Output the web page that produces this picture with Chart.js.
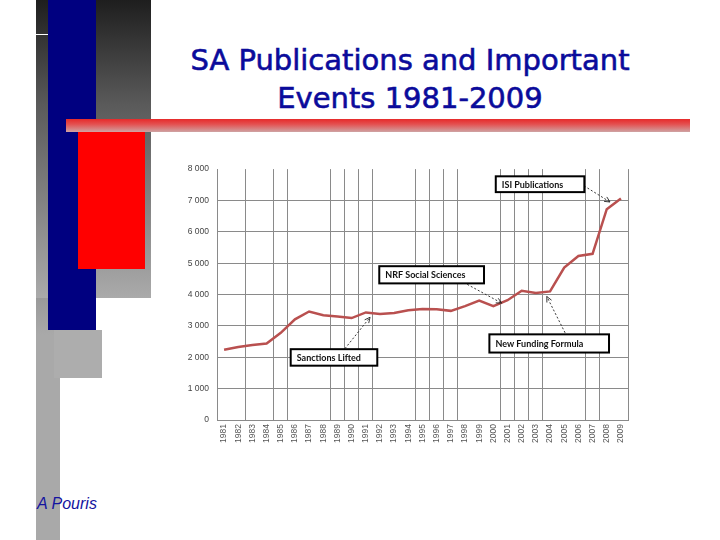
<!DOCTYPE html>
<html>
<head>
<meta charset="utf-8">
<script src="https://cdn.jsdelivr.net/npm/chart.js@4.4.1/dist/chart.umd.min.js"></script>
<style>
  html, body { margin: 0; padding: 0; background: #fff; }
  #slide { position: relative; width: 720px; height: 540px; overflow: hidden; background: #fff; }
  .deco { position: absolute; }
  #title {
    position: absolute; left: 150px; top: 41px; width: 520px;
    text-align: center; font-family: "DejaVu Sans", sans-serif; font-size: 29px;
    line-height: 38px; color: #0b0b9b; -webkit-text-stroke: 0.6px #0b0b9b;
  }
  #author {
    position: absolute; left: 37px; top: 495px;
    font-family: "Liberation Sans", Arial, sans-serif; font-style: italic;
    font-size: 16px; color: #1414a0;
  }
  #chartBox { position: absolute; left: 150px; top: 156px; width: 490px; height: 300px; }
</style>
</head>
<body>
<div id="slide">
  <!-- side decoration -->
  <div class="deco" style="left:36px;top:0;width:24px;height:540px;background:linear-gradient(#1e1e1e 0%, #a9a9a9 62%, #a9a9a9 100%);"></div>
  <div class="deco" style="left:36px;top:0;width:115px;height:298px;background:linear-gradient(#1e1e1e 0%, #5a5a5a 35%, #aaaaaa 100%);"></div>
  <div class="deco" style="left:48px;top:0;width:48px;height:330px;background:#000080;"></div>
  <div class="deco" style="left:54px;top:330px;width:48px;height:48px;background:#adadad;"></div>
  <div class="deco" style="left:36px;top:34px;width:12px;height:1px;background:#ffffff;"></div>
  <div class="deco" style="left:78px;top:132px;width:67px;height:137px;background:#ff0000;"></div>
  <div class="deco" style="left:66px;top:119px;width:624px;height:13px;background:linear-gradient(#e62a2a 0%, #e45050 40%, #cfa3a3 100%);"></div>

  <div id="title">SA Publications and Important<br>Events 1981-2009</div>
  <div id="author">A Pouris</div>

  <div id="chartBox"><canvas id="myChart"></canvas></div>
</div>

<script>
// data
const years = ['1981','1982','1983','1984','1985','1986','1987','1988','1989','1990',
               '1991','1992','1993','1994','1995','1996','1997','1998','1999','2000',
               '2001','2002','2003','2004','2005','2006','2007','2008','2009'];
const publications = [2240, 2330, 2390, 2440, 2780, 3210, 3460, 3340, 3300, 3250,
                      3430, 3380, 3410, 3500, 3540, 3530, 3480, 3630, 3805, 3630,
                      3820, 4120, 4050, 4100, 4860, 5230, 5300, 6720, 7060];
const yTicks = [0, 1000, 2000, 3000, 4000, 5000, 6000, 7000, 8000];
const eventLabels = ['ISI Publications', 'NRF Social Sciences', 'New Funding Formula', 'Sanctions Lifted'];

// callout layout, in axis units (category index, value)
const callouts = [
    { box: [19.17, 25.42, 7770, 7266], from: [25.4, 7465], to: [27.23, 6951] },
    { box: [10.95, 18.34, 4904, 4356], from: [17.16, 4324], to: [19.59, 3726] },
    { box: [18.72, 27.16, 2731, 2151], from: [24.06, 2781], to: [22.77, 3937] },
    { box: [4.70, 10.81, 2258, 1732], from: [8.53, 2277], to: [10.3, 3276] }
];

// the vertical lines that show in the picture
const shownVLines = [0, 2, 4, 5, 8, 9, 10, 11, 14, 15, 16, 17, 20, 21, 22, 23, 26, 27, 29];

const gridGray = '#8a8a8a';

const calloutPlugin = {
    id: 'callouts',
    afterDatasetsDraw(chart) {
        const ctx = chart.ctx;
        const xs = chart.scales.x, ys = chart.scales.y;
        callouts.forEach((c, i) => {
            const x0 = xs.getPixelForValue(c.box[0]);
            const x1 = xs.getPixelForValue(c.box[1]);
            const y0 = ys.getPixelForValue(c.box[2]);
            const y1 = ys.getPixelForValue(c.box[3]);

            // dashed arrow
            const fx = xs.getPixelForValue(c.from[0]), fy = ys.getPixelForValue(c.from[1]);
            const tx = xs.getPixelForValue(c.to[0]), ty = ys.getPixelForValue(c.to[1]);
            ctx.save();
            ctx.strokeStyle = '#222';
            ctx.lineWidth = 0.9;
            ctx.setLineDash([2, 2]);
            ctx.beginPath();
            ctx.moveTo(fx, fy);
            ctx.lineTo(tx, ty);
            ctx.stroke();
            ctx.setLineDash([]);
            const ang = Math.atan2(ty - fy, tx - fx);
            ctx.beginPath();
            ctx.moveTo(tx - 6 * Math.cos(ang - 0.45), ty - 6 * Math.sin(ang - 0.45));
            ctx.lineTo(tx, ty);
            ctx.lineTo(tx - 6 * Math.cos(ang + 0.45), ty - 6 * Math.sin(ang + 0.45));
            ctx.stroke();

            // box
            ctx.fillStyle = '#fff';
            ctx.fillRect(x0, y0, x1 - x0, y1 - y0);
            ctx.strokeStyle = '#000';
            ctx.lineWidth = 2;
            ctx.strokeRect(x0, y0, x1 - x0, y1 - y0);
            ctx.fillStyle = '#111';
            ctx.font = 'bold 9px Lato, "Liberation Sans", sans-serif';
            ctx.textBaseline = 'middle';
            ctx.textAlign = 'left';
            ctx.fillText(eventLabels[i], x0 + 6, (y0 + y1) / 2 + 0.5);
            ctx.restore();
        });
    }
};

const myChart = new Chart(document.getElementById('myChart'), {
    type: 'line',
    data: {
        labels: years,
        datasets: [{
            label: 'ISI Publications',
            data: publications,
            borderColor: '#b9504f',
            borderWidth: 2.5,
            pointRadius: 0,
            tension: 0,
            fill: false
        }]
    },
    options: {
        responsive: true,
        maintainAspectRatio: false,
        animation: false,
        layout: { padding: { top: 10, right: 12, left: 0, bottom: 0 } },
        plugins: {
            legend: { display: false },
            tooltip: { enabled: false }
        },
        scales: {
            x: {
                offset: true,
                grid: {
                    offset: true,
                    drawTicks: false,
                    color: (c) => {
                        if (c.index === undefined) return gridGray;
                        return shownVLines.includes(c.index) ? gridGray : 'rgba(0,0,0,0)';
                    },
                    lineWidth: 1
                },
                border: { display: true, color: gridGray, width: 1 },
                ticks: {
                    autoSkip: false,
                    minRotation: 90,
                    maxRotation: 90,
                    padding: 4,
                    color: '#555',
                    font: { family: 'Liberation Sans', size: 8.5 }
                },
                afterFit(scale) { scale.height = 36; }
            },
            y: {
                min: 0,
                max: 8000,
                afterBuildTicks(scale) { scale.ticks = yTicks.map(v => ({ value: v })); },
                grid: {
                    drawTicks: false,
                    color: (c) => (c.tick && c.tick.value === 8000) ? 'rgba(0,0,0,0)' : gridGray,
                    lineWidth: 1
                },
                border: { display: true, color: gridGray, width: 1 },
                ticks: {
                    padding: 8,
                    color: '#444',
                    font: { family: 'Liberation Sans', size: 8.5 },
                    callback: (v) => v === 0 ? '0' : String(v).replace(/\B(?=(\d{3})+(?!\d))/g, ' ')
                },
                afterFit(scale) { scale.width = 67; }
            }
        }
    },
    plugins: [calloutPlugin]
});
</script>
</body>
</html>
